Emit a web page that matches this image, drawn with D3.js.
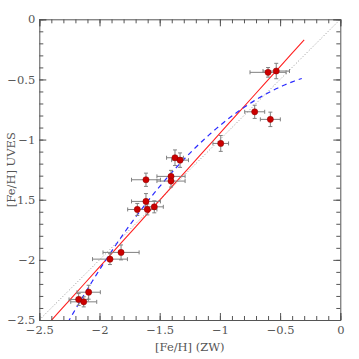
<!DOCTYPE html>
<html><head><meta charset="utf-8">
<script src="https://cdn.jsdelivr.net/npm/d3@7"></script>
<style>
html,body{margin:0;padding:0;background:#fff;}
svg{display:block;}
text{font-family:"DejaVu Serif",serif;fill:#555;}
</style></head>
<body>
<script>
// Data
const zwFeH   = [-0.600,-0.532,-0.711,-0.581,-0.993,-1.373,-1.331,-1.614,-1.406,-1.406,-1.614,-1.686,-1.603,-1.545,-1.821,-1.913,-2.090,-2.173,-2.131];
const uvesFeH = [-0.441,-0.430,-0.769,-0.832,-1.032,-1.151,-1.171,-1.334,-1.306,-1.345,-1.514,-1.581,-1.581,-1.559,-1.938,-1.994,-2.269,-2.329,-2.349];
const zwErr   = [0.15,0.11,0.083,0.083,0.065,0.07,0.07,0.12,0.117,0.117,0.12,0.08,0.08,0.075,0.15,0.145,0.097,0.08,0.108];
const uvesErr = [0.04,0.064,0.055,0.06,0.066,0.065,0.06,0.055,0.05,0.05,0.065,0.05,0.045,0.05,0.062,0.045,0.058,0.05,0.042];
const xTicks = [-2.5,-2,-1.5,-1,-0.5,0];
const yTicks = [-2.5,-2,-1.5,-1,-0.5,0];
const tickLabels = ["\u22122.5","\u22122","\u22121.5","\u22121","\u22120.5","0"];
// linear fit: y = a + b x ; quadratic fit: y = c0 + c1 x + c2 x^2
const linFit = [0.163, 1.111];
const linRange = [-2.45, -0.30];
const quadFit = [-0.4265, 0.086, -0.371];
const quadRange = [-2.30, -0.32];
const identityRange = [-2.5, 0];

const W = 359, H = 359;
const m = {l:39.3, r:18.7, t:19.3, b:39};
const svg = d3.select("body").append("svg").attr("width",W).attr("height",H);
const x = d3.scaleLinear().domain([-2.5,0]).range([m.l, W-m.r]);
const y = d3.scaleLinear().domain([-2.5,0]).range([H-m.b, m.t]);

svg.append("clipPath").attr("id","clip").append("rect")
  .attr("x",x(-2.5)).attr("y",y(0)).attr("width",x(0)-x(-2.5)).attr("height",y(-2.5)-y(0));
const plot = svg.append("g").attr("clip-path","url(#clip)");

// identity dotted line
plot.append("line")
  .attr("x1",x(identityRange[0])).attr("y1",y(identityRange[0]))
  .attr("x2",x(identityRange[1])).attr("y2",y(identityRange[1]))
  .attr("stroke","#888").attr("stroke-width",0.9).attr("stroke-dasharray","1,2");

// red linear fit
const linXs = d3.range(0, 21).map(i => linRange[0] + (linRange[1]-linRange[0])*i/20);
plot.append("path")
  .attr("d", d3.line().x(v=>x(v)).y(v=>y(linFit[0]+linFit[1]*v))(linXs))
  .attr("fill","none").attr("stroke","#ff2020").attr("stroke-width",1.1);

// blue quadratic dashed
const qXs = d3.range(0, 101).map(i => quadRange[0] + (quadRange[1]-quadRange[0])*i/100);
plot.append("path")
  .attr("d", d3.line().x(v=>x(v)).y(v=>y(quadFit[0]+quadFit[1]*v+quadFit[2]*v*v))(qXs))
  .attr("fill","none").attr("stroke","#2a2aff").attr("stroke-width",1.2).attr("stroke-dasharray","5,4");

// error bars
const eb = svg.append("g").attr("stroke","#808080").attr("stroke-width",1);
const cap = 2;
zwFeH.forEach((xv,i)=>{
  const yv = uvesFeH[i];
  const x0 = x(xv-zwErr[i]), x1 = x(xv+zwErr[i]);
  const y0 = y(yv-uvesErr[i]), y1 = y(yv+uvesErr[i]);
  eb.append("line").attr("x1",x0).attr("x2",x1).attr("y1",y(yv)).attr("y2",y(yv));
  eb.append("line").attr("x1",x0).attr("x2",x0).attr("y1",y(yv)-cap).attr("y2",y(yv)+cap);
  eb.append("line").attr("x1",x1).attr("x2",x1).attr("y1",y(yv)-cap).attr("y2",y(yv)+cap);
  eb.append("line").attr("x1",x(xv)).attr("x2",x(xv)).attr("y1",y0).attr("y2",y1);
  eb.append("line").attr("x1",x(xv)-cap).attr("x2",x(xv)+cap).attr("y1",y0).attr("y2",y0);
  eb.append("line").attr("x1",x(xv)-cap).attr("x2",x(xv)+cap).attr("y1",y1).attr("y2",y1);
});

// points
svg.append("g").selectAll("circle").data(zwFeH).join("circle")
  .attr("cx",(d)=>x(d)).attr("cy",(d,i)=>y(uvesFeH[i])).attr("r",3.1)
  .attr("fill","#cc0000").attr("stroke","#8a0000").attr("stroke-width",0.5);

// axes (ticks inward on all four sides)
const fmt = (d)=>tickLabels[xTicks.indexOf(d)];
const minor = d3.range(-2.5, 0.001, 0.1).map(v=>+v.toFixed(2));
function drawAxis(axisGen, transform, major, labels){
  const gMinor = svg.append("g").attr("transform",transform)
    .call(axisGen(minor).tickSize(-4).tickFormat(""));
  gMinor.select(".domain").remove();
  const g = svg.append("g").attr("transform",transform)
    .call(axisGen(major).tickSize(-7).tickFormat(labels ? fmt : ""));
  return [gMinor, g];
}
const axBottom = drawAxis(v=>d3.axisBottom(x).tickValues(v), `translate(0,${y(-2.5)})`, xTicks, true);
const axTop = drawAxis(v=>d3.axisTop(x).tickValues(v), `translate(0,${y(0)})`, xTicks, false);
const axLeft = drawAxis(v=>d3.axisLeft(y).tickValues(v), `translate(${x(-2.5)},0)`, yTicks, true);
const axRight = drawAxis(v=>d3.axisRight(y).tickValues(v), `translate(${x(0)},0)`, yTicks, false);
[...axBottom,...axTop,...axLeft,...axRight].forEach(g=>{
  g.selectAll("line").attr("stroke","#555");
  g.selectAll(".domain").attr("stroke","#555");
});
axBottom[1].selectAll("text").attr("font-size",11.5).attr("y",6).attr("dy","0.71em").attr("fill","#555")
  .style("font-family",'"DejaVu Serif",serif');
axLeft[1].selectAll("text").attr("font-size",11.5).attr("x",-4).attr("fill","#555")
  .style("font-family",'"DejaVu Serif",serif');

// titles
svg.append("text").attr("x",(x(-2.5)+x(0))/2).attr("y",351).attr("text-anchor","middle")
  .attr("font-size",11.5).text("[Fe/H] (ZW)");
svg.append("text").attr("transform",`translate(15,${(y(0)+y(-2.5))/2}) rotate(-90)`)
  .attr("text-anchor","middle").attr("font-size",11.5).text("[Fe/H] UVES");
</script>
</body></html>
